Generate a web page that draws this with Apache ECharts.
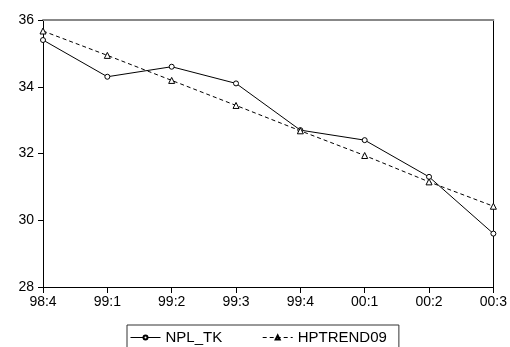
<!DOCTYPE html>
<html>
<head>
<meta charset="utf-8">
<script src="https://cdn.jsdelivr.net/npm/echarts@6/dist/echarts.min.js"></script>
<style>
  html, body { margin: 0; padding: 0; background: #fff; }
  #main { width: 510px; height: 347px; }
</style>
</head>
<body>
<div id="main"></div>
<script>
// quarters 98:4 .. 00:3
const quarters = ["98:4", "99:1", "99:2", "99:3", "99:4", "00:1", "00:2", "00:3"];
const nplTk = [35.4, 34.3, 34.6, 34.1, 32.7, 32.4, 31.3, 29.6];
const hpTrend = [35.67, 34.94, 34.19, 33.44, 32.68, 31.94, 31.15, 30.42];

const chart = echarts.init(document.getElementById("main"));

const font = { fontFamily: "Liberation Sans", fontSize: 14, color: "#000" };

chart.setOption({
  animation: false,
  grid: { left: 43, right: 11, top: 20, bottom: 60 },
  legend: {
    bottom: -8,
    left: 127,
    width: 289,
    padding: [5, 12, 10, 3],
    borderColor: "#333",
    borderWidth: 1,
    borderRadius: 0,
    itemWidth: 30,
    itemHeight: 5,
    itemGap: 40,
    textStyle: Object.assign({}, font, { fontSize: 15 }),
    lineStyle: { width: 1 },
    data: ["NPL_TK", "HPTREND09"]
  },
  xAxis: [
    {
      type: "category",
      data: quarters,
      boundaryGap: false,
      axisLine: { lineStyle: { color: "#000", width: 1 } },
      axisTick: { show: true, length: 6, lineStyle: { color: "#000" } },
      axisLabel: Object.assign({ margin: 8 }, font),
      splitLine: { show: false }
    },
    {
      type: "category",
      data: quarters,
      boundaryGap: false,
      position: "top",
      axisLine: { show: true, lineStyle: { color: "#888", width: 2 } },
      axisTick: { show: false },
      axisLabel: { show: false }
    }
  ],
  yAxis: [
    {
      type: "value",
      min: 28,
      max: 36,
      interval: 2,
      axisLine: { show: true, lineStyle: { color: "#000" } },
      axisTick: { show: true, length: 5, lineStyle: { color: "#000" } },
      axisLabel: Object.assign({ margin: 9 }, font),
      splitLine: { show: false }
    },
    {
      type: "value",
      min: 28,
      max: 36,
      position: "right",
      axisLine: { show: true, lineStyle: { color: "#000" } },
      axisTick: { show: false },
      axisLabel: { show: false },
      splitLine: { show: false }
    }
  ],
  series: [
    {
      name: "NPL_TK",
      type: "line",
      data: nplTk,
      symbol: "circle",
      symbolSize: 5,
      itemStyle: { color: "#fff", borderColor: "#000", borderWidth: 1 },
      lineStyle: { color: "#000", width: 1 }
    },
    {
      name: "HPTREND09",
      type: "line",
      data: hpTrend,
      symbol: "triangle",
      symbolSize: 6,
      itemStyle: { color: "#fff", borderColor: "#000", borderWidth: 1 },
      lineStyle: { color: "#000", width: 1, type: [4, 3] }
    }
  ]
});
</script>
</body>
</html>
